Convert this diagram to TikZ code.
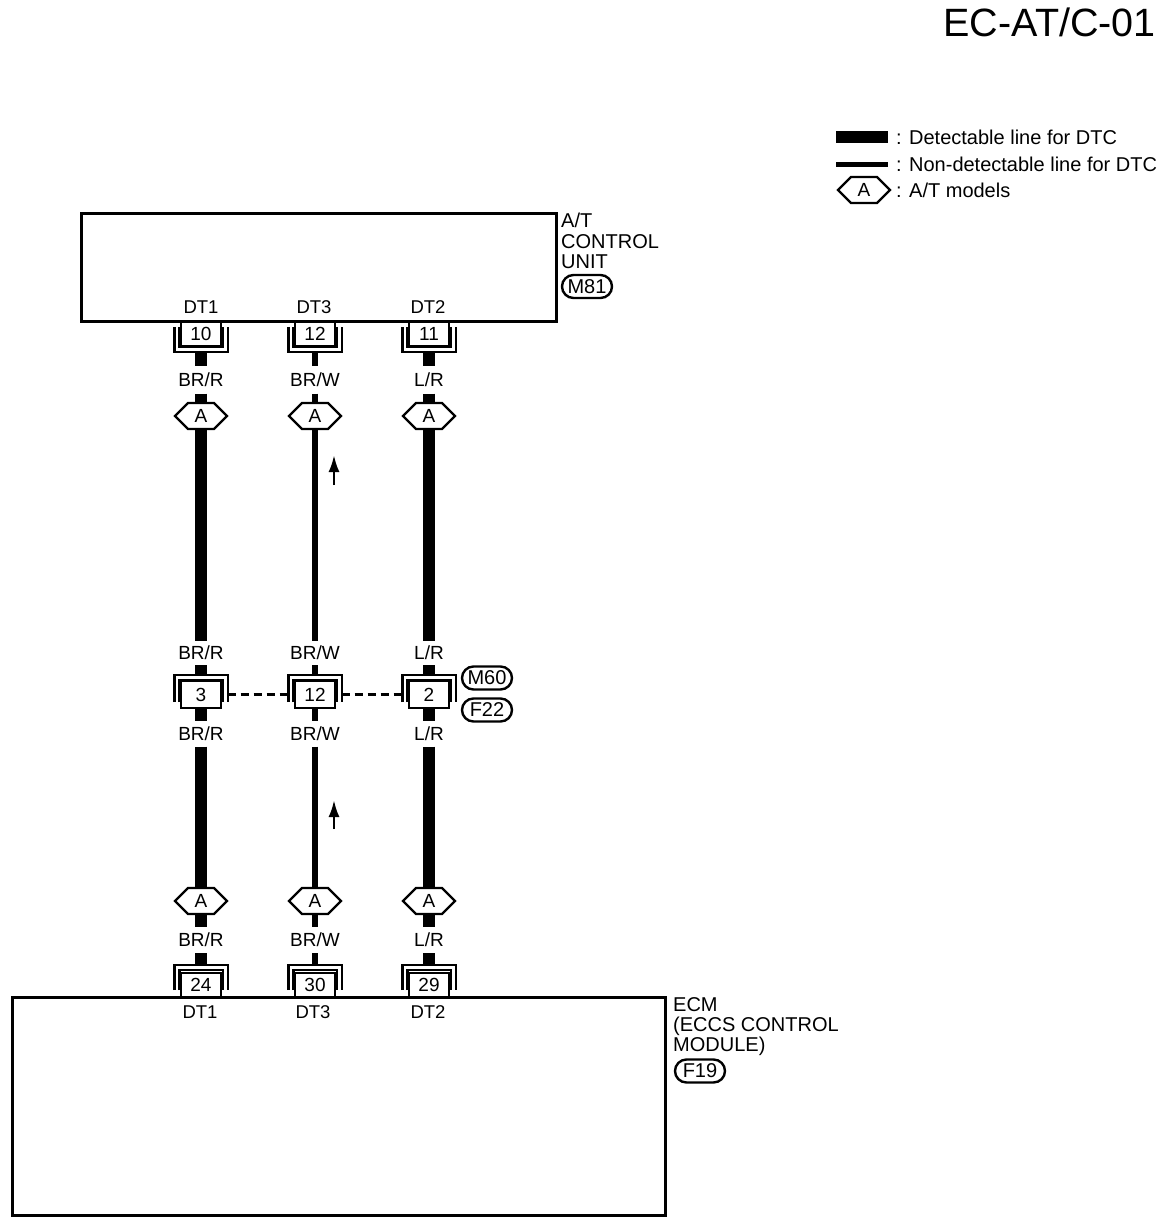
\documentclass[tikz,border=0pt]{standalone}
\usepackage{fontspec}
\setmainfont{Liberation Sans}
\usetikzlibrary{arrows.meta}
\newcommand{\lbl}{\fontsize{19}{19}\selectfont}
\newcommand{\txt}{\fontsize{20}{20}\selectfont}
\tikzset{
  x=1pt,y=-1pt,
  outline/.style={draw=black,line width=3pt,fill=white},
  hexspot/.style={minimum width=52pt,minimum height=27pt,inner sep=0pt,font=\lbl},
  brk/.style={minimum width=53pt,minimum height=25pt,inner sep=0pt},
  numbox/.style={draw=black,line width=2.6pt,fill=white,minimum width=40pt,minimum height=24pt,inner sep=0pt,font=\lbl},
  wirelabel/.style={inner sep=0pt,minimum width=50pt,text height=13.5pt,text depth=0pt,font=\lbl},
  pin/.style={inner sep=0pt,font=\fontsize{18.5}{19}\selectfont},
  pill/.style={draw=black,line width=2.4pt,rounded corners=11.5pt,minimum width=50pt,minimum height=23pt,inner sep=0pt,font=\txt},
  side/.style={anchor=base west,inner sep=0pt,font=\txt},
  bracketline/.style={draw=black,line width=2.4pt},
  hexline/.style={draw=black,line width=2.4pt,fill=white,line join=miter},
  dashlink/.style={draw=black,line width=2.4pt,dash pattern=on 8pt off 5pt},
  flow/.style={draw=black,line width=2.6pt,-{Latex[length=17pt,width=11pt]}}
}
% hexagon outline around a named node
\newcommand{\hexat}[1]{%
  \draw[hexline] ([xshift=-26pt]#1.center) -- ([xshift=-13pt,yshift=13pt]#1.center) -- ([xshift=13pt,yshift=13pt]#1.center)
    -- ([xshift=26pt]#1.center) -- ([xshift=13pt,yshift=-13pt]#1.center) -- ([xshift=-13pt,yshift=-13pt]#1.center) -- cycle;}
% bracket open at top (#1 node)
\newcommand{\brkup}[1]{%
  \draw[bracketline] (#1.north west) -- (#1.south west) -- (#1.south east) -- (#1.north east);
  \draw[bracketline] ([xshift=5pt]#1.north west) -- ([xshift=5pt,yshift=5pt]#1.south west) -- ([xshift=-5pt,yshift=5pt]#1.south east) -- ([xshift=-5pt]#1.north east);}
% bracket open at bottom
\newcommand{\brkdown}[1]{%
  \draw[bracketline] (#1.south west) -- (#1.north west) -- (#1.north east) -- (#1.south east);
  \draw[bracketline] ([xshift=5pt]#1.south west) -- ([xshift=5pt,yshift=-5pt]#1.north west) -- ([xshift=-5pt,yshift=-5pt]#1.north east) -- ([xshift=-5pt]#1.south east);}
% one vertical harness: id, x, width, colour code, top pin, middle pin, bottom pin
\newcommand{\harness}[7]{%
  \node[brk] (ta#1) at (#2,339.5) {};
  \node[wirelabel,minimum height=27pt] (l1#1) at (#2,380) {#4};
  \node[hexspot] (h1#1) at (#2,416) {};
  \node[wirelabel,minimum height=24pt] (l2#1) at (#2,653) {#4};
  \node[brk,minimum height=27pt] (ma#1) at (#2,688.5) {};
  \node[wirelabel,minimum height=25pt] (l3#1) at (#2,734) {#4};
  \node[hexspot] (h2#1) at (#2,901) {};
  \node[wirelabel,minimum height=26pt] (l4#1) at (#2,940) {#4};
  \node[brk] (ba#1) at (#2,977.5) {};
  \draw[line width=#3pt] (ta#1.south) -- (l1#1.north);
  \draw[line width=#3pt] (l1#1.south) -- (h1#1.north);
  \draw[line width=#3pt] (h1#1.south) -- (l2#1.north);
  \draw[line width=#3pt] (l2#1.south) -- (ma#1.north);
  \draw[line width=#3pt] (l3#1.south) -- (h2#1.north);
  \draw[line width=#3pt] (h2#1.south) -- (l4#1.north);
  \draw[line width=#3pt] (l4#1.south) -- (ba#1.north);
  \hexat{h1#1}\hexat{h2#1}
  \node[hexspot] at (h1#1) {A};
  \node[hexspot] at (h2#1) {A};
  \brkup{ta#1}
  \brkdown{ba#1}
  \node[numbox] (tp#1) at (#2,334) {#5};
  \brkdown{ma#1}
  \node[numbox,minimum height=27pt] (mp#1) at (#2,694.5) {#6};
  \node[numbox] (bp#1) at (#2,985) {#7};
  \draw[line width=#3pt] (mp#1.south) -- (l3#1.north);
}
\begin{document}
\begin{tikzpicture}
\useasboundingbox (0,0) rectangle (1168,1224);
\fill[white] (0,0) rectangle (1168,1224);

\node[anchor=east,inner sep=0pt,font=\fontsize{39.5}{40}\selectfont] (title) at (1156,22) {EC-AT/C-01};

% legend
\node[minimum width=52pt,minimum height=12pt,inner sep=0pt,fill=black] (legthick) at (862,137) {};
\node[minimum width=52pt,minimum height=5pt,inner sep=0pt,fill=black] (legthin) at (862,164) {};
\node[hexspot] (leghex) at (864,190) {};
\hexat{leghex}
\node[hexspot] at (leghex) {A};
\node[side] (legt1) at (896,144) {: Detectable line for DTC};
\node[side] (legt2) at (896,171) {: Non-detectable line for DTC};
\node[side] (legt3) at (896,197) {: A/T models};

% units
\node[outline,minimum width=475pt,minimum height=108pt,inner sep=0pt] (tcu) at (318.5,267) {};
\node[outline,minimum width=653pt,minimum height=218pt,inner sep=0pt] (ecm) at (338.5,1106) {};

\node[side] (tcu1) at (561,227) {A/T};
\node[side] (tcu2) at (561,248) {CONTROL};
\node[side] (tcu3) at (561,268) {UNIT};
\node[pill] (m81) at (587,286.5) {M81};

\node[side] (ecm1) at (673,1011) {ECM};
\node[side] (ecm2) at (673,1031) {(ECCS CONTROL};
\node[side] (ecm3) at (673,1051) {MODULE)};
\node[pill] (f19) at (700,1071) {F19};

\node[pill] (m60) at (487,678) {M60};
\node[pill] (f22) at (487,710) {F22};

% harnesses
\harness{a}{201}{12}{BR/R}{10}{3}{24}
\harness{b}{315}{6}{BR/W}{12}{12}{30}
\harness{c}{429}{12}{L/R}{11}{2}{29}

% pin names
\node[pin] (d1) at (201,307) {DT1};
\node[pin] (d2) at (314,307) {DT3};
\node[pin] (d3) at (428,307) {DT2};
\node[pin] (d4) at (200,1012) {DT1};
\node[pin] (d5) at (313,1012) {DT3};
\node[pin] (d6) at (428,1012) {DT2};

% dashed links between connector halves
\draw[dashlink] (maa.east |- mpa) -- (mab.west |- mpa);
\draw[dashlink] (mab.east |- mpa) -- (mac.west |- mpa);

% flow arrows
\coordinate (ar1s) at (334,485);
\coordinate (ar1e) at (334,455);
\coordinate (ar2s) at (334,829);
\coordinate (ar2e) at (334,800);
\draw[flow] (ar1s) -- (ar1e);
\draw[flow] (ar2s) -- (ar2e);
\end{tikzpicture}
\end{document}
